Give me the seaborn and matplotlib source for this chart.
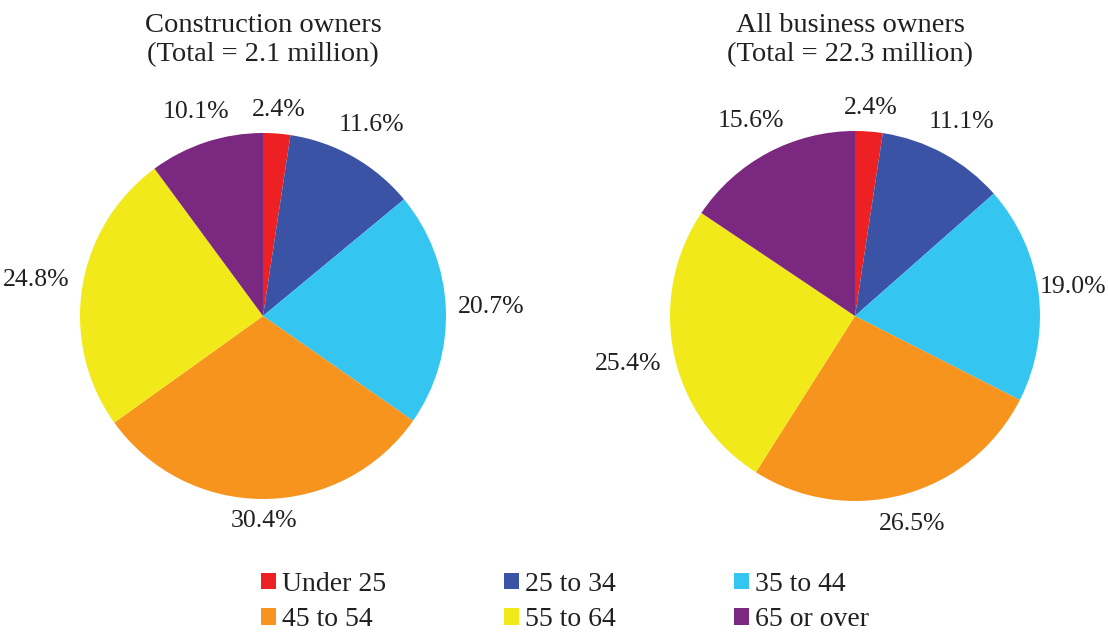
import numpy as np
import matplotlib
matplotlib.use("Agg")
import matplotlib.pyplot as plt
import matplotlib.patches as mpatches
import seaborn as sns

# data
age_groups = ["Under 25", "25 to 34", "35 to 44", "45 to 54", "55 to 64", "65 or over"]
construction_share = [2.4, 11.6, 20.7, 30.4, 24.8, 10.1]
all_business_share = [2.4, 11.1, 19.0, 26.5, 25.4, 15.6]
titles = ["Construction owners\n(Total = 2.1 million)",
          "All business owners\n(Total = 22.3 million)"]

colors = ["#ED2024", "#3A53A4", "#35C5F1", "#F7941D", "#F1E91A", "#7B2880"]
text_color = "#231F20"

sns.set_theme(style="white")
plt.rcParams["font.family"] = ["Liberation Serif", "DejaVu Serif"]

W, H = 1108, 633
fig = plt.figure(figsize=(W / 100, H / 100), dpi=100)

# pie boxes in pixels: (center x, center y from top, radius, title x)
boxes = [(263, 316, 183, 263), (855, 316, 185, 850)]
shares = [construction_share, all_business_share]
label_size = 18.5
gap_px = 12

pies = []
for (cx, cy, r, tx), vals, title in zip(boxes, shares, titles):
    ax = fig.add_axes([(cx - r) / W, (H - cy - r) / H, 2 * r / W, 2 * r / H])
    wedges, texts = ax.pie(
        vals,
        labels=[f"{v:.1f}%" for v in vals],
        colors=colors,
        startangle=90,
        counterclock=False,
        labeldistance=1.1,
        radius=1.0,
        textprops={"fontsize": label_size, "color": text_color},
        wedgeprops={"linewidth": 0},
    )
    ax.set_xlim(-1, 1)
    ax.set_ylim(-1, 1)
    ax.set_aspect("equal")
    ax.axis("off")
    fig.text(tx / W, 1 - 40 / H, title, ha="center", va="center",
             fontsize=20.5, color=text_color, linespacing=1.24)
    pies.append((ax, r, wedges, texts))

# put each percentage just outside its wedge, a fixed gap from the rim
fig.canvas.draw()
renderer = fig.canvas.get_renderer()
half_h = 0.38 * label_size * 100 / 72
for ax, r, wedges, texts in pies:
    for w, t in zip(wedges, texts):
        theta = np.deg2rad((w.theta1 + w.theta2) / 2)
        t.set_ha("center")
        t.set_va("center")
        half_w = t.get_window_extent(renderer).width / 2
        d = 1 + (gap_px + abs(np.cos(theta)) * half_w + abs(np.sin(theta)) * half_h) / r
        t.set_position((d * np.cos(theta), d * np.sin(theta)))
        # keep the label inside the figure
        bb = t.get_window_extent(renderer)
        shift = min(0, W - 2 - bb.x1) + max(0, 2 - bb.x0)
        if shift:
            x, y = t.get_position()
            t.set_position((x + shift / r, y))

# legend is filled column by column, so reorder to read row by row
order = [0, 3, 1, 4, 2, 5]
handles = [mpatches.Patch(facecolor=colors[i], edgecolor="none") for i in order]
labels = [age_groups[i] for i in order]
leg = fig.legend(
    handles, labels,
    loc="lower center",
    bbox_to_anchor=(565 / W, -13 / H),
    ncol=3,
    frameon=False,
    fontsize=20,
    borderpad=0,
    handlelength=0.54,
    handleheight=0.54,
    handletextpad=0.22,
    columnspacing=4.24,
    labelspacing=0.37,
)
for t in leg.get_texts():
    t.set_color(text_color)

fig.savefig("out.png", dpi=100)
